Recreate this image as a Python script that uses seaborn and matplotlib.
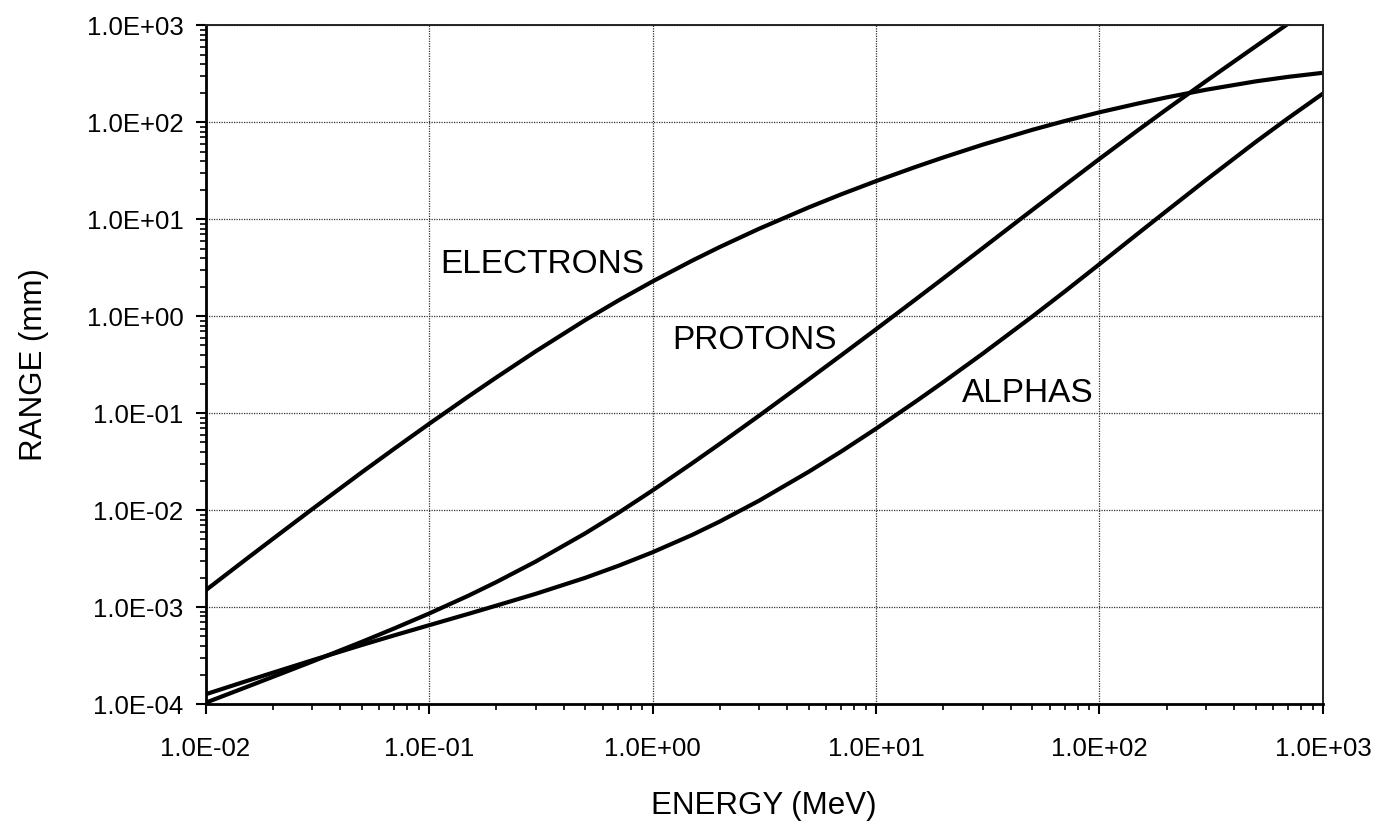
import matplotlib
matplotlib.use("Agg")
import matplotlib.pyplot as plt
import matplotlib.ticker as mticker
import numpy as np
import pandas as pd
import seaborn as sns

# Energy grid (MeV)
energy = [0.01, 0.015, 0.02, 0.03, 0.05, 0.07,
          0.1, 0.15, 0.2, 0.3, 0.5, 0.7,
          1, 1.5, 2, 3, 5, 7,
          10, 15, 20, 30, 50, 70,
          100, 150, 200, 300, 500, 700,
          1000]

# Range (mm) for each particle type
electrons = [1.486e-3, 3.048e-3, 5.048e-3, 1.023e-2, 2.454e-2, 4.311e-2,
             7.752e-2, 0.1488, 0.2336, 0.4342, 0.9134, 1.445,
             2.286, 3.733, 5.182, 7.998, 13.27, 18.13,
             24.77, 34.65, 43.46, 58.88, 83.75, 103.4,
             127.1, 157.3, 181.1, 217.2, 264.9, 295.1,
             324.7]
protons = [1.030e-4, 1.475e-4, 1.905e-4, 2.739e-4, 4.376e-4, 6.032e-4,
           8.570e-4, 1.310e-3, 1.810e-3, 2.946e-3, 5.764e-3, 9.300e-3,
           1.596e-2, 3.030e-2, 4.826e-2, 9.432e-2, 0.2235, 0.3970,
           0.7338, 1.485, 2.459, 5.039, 12.46, 22.51,
           41.98, 84.27, 136.7, 266.7, 609.0, 1046,
           1854]
alphas = [1.259e-4, 1.703e-4, 2.104e-4, 2.825e-4, 4.059e-4, 5.114e-4,
          6.494e-4, 8.511e-4, 1.035e-3, 1.369e-3, 2.003e-3, 2.654e-3,
          3.673e-3, 5.535e-3, 7.633e-3, 1.253e-2, 2.489e-2, 4.034e-2,
          6.918e-2, 0.1311, 0.2090, 0.4108, 0.9915, 1.803,
          3.447, 7.250, 12.24, 25.48, 62.79, 110.9,
          198.4]

particles = ["ELECTRONS", "PROTONS", "ALPHAS"]

# Label anchor points (left edge, vertical centre) in data units
label_x = [0.112, 1.22, 24.2]
label_y = [3.38, 0.556, 0.158]

df = pd.concat([
    pd.DataFrame({"energy": energy, "range": vals, "particle": name})
    for name, vals in zip(particles, [electrons, protons, alphas])
], ignore_index=True)

sns.set_style("white")
plt.rcParams["font.family"] = ["Liberation Sans", "DejaVu Sans"]

fig = plt.figure(figsize=(13.86, 8.21), dpi=100)
ax = fig.add_axes([0.1483, 0.1425, 0.8062, 0.8265])

sns.lineplot(data=df, x="energy", y="range", hue="particle",
             palette={p: "black" for p in particles}, linewidth=3.0,
             legend=False, ax=ax, sort=True)

ax.set_xscale("log")
ax.set_yscale("log")
ax.set_xlim(1e-2, 1e3)
ax.set_ylim(1e-4, 1e3)

# Decade gridlines, dotted
ax.grid(True, which="major", linestyle=(0, (1, 1)), color="#333333", linewidth=0.9)
ax.set_axisbelow(True)

fmt = mticker.FuncFormatter(lambda v, pos: f"{v:.1E}")
ax.xaxis.set_major_locator(mticker.LogLocator(base=10, numticks=20))
ax.yaxis.set_major_locator(mticker.LogLocator(base=10, numticks=20))
ax.xaxis.set_minor_locator(mticker.LogLocator(base=10, subs=np.arange(2, 10), numticks=50))
ax.yaxis.set_minor_locator(mticker.LogLocator(base=10, subs=np.arange(2, 10), numticks=50))
ax.xaxis.set_major_formatter(fmt)
ax.yaxis.set_major_formatter(fmt)
ax.xaxis.set_minor_formatter(mticker.NullFormatter())
ax.yaxis.set_minor_formatter(mticker.NullFormatter())

ax.tick_params(which="major", direction="out", length=7, width=1.5,
               labelsize=18.5, color="black", labelcolor="black")
ax.tick_params(axis="x", which="major", pad=16.5)
ax.tick_params(axis="y", which="major", pad=9)
ax.tick_params(which="minor", direction="out", length=4.5, width=1.2, color="black")
ax.tick_params(top=False, right=False, which="both")
ax.tick_params(axis="both", which="both", bottom=True, left=True)

for side in ["left", "bottom"]:
    ax.spines[side].set_linewidth(2.0)
    ax.spines[side].set_color("black")
for side in ["top", "right"]:
    ax.spines[side].set_linewidth(1.4)
    ax.spines[side].set_color("#222222")

ax.set_xlabel("ENERGY (MeV)", fontsize=22.5, labelpad=22, color="black")
ax.set_ylabel("RANGE (mm)", fontsize=22.5, labelpad=27, color="black")

for name, lx, ly in zip(particles, label_x, label_y):
    ax.text(lx, ly, name, fontsize=24, ha="left", va="center", color="black")

fig.savefig("out.png", dpi=100, facecolor="white")
